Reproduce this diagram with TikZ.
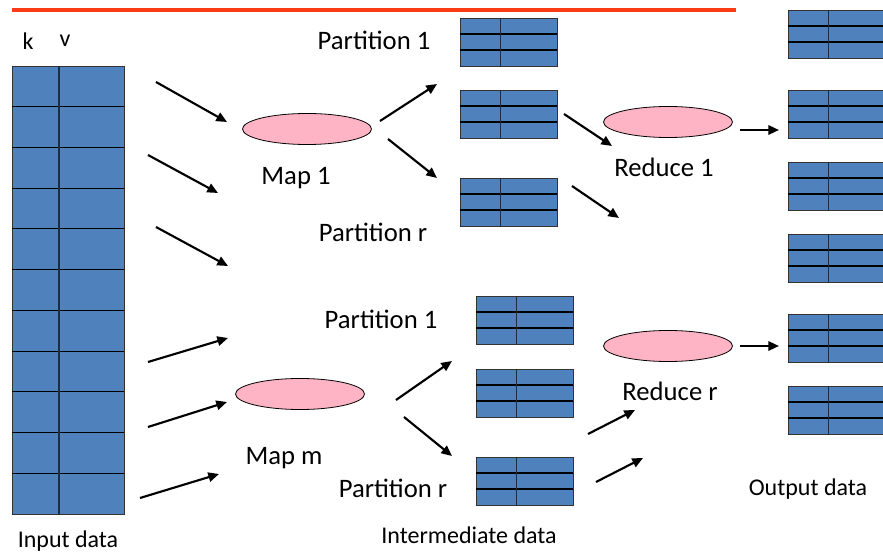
\documentclass[tikz,border=0pt]{standalone}
\usepackage{fontspec}
\setmainfont{Carlito}
\usetikzlibrary{shapes.geometric, arrows.meta, positioning, calc}
\definecolor{cellblue}{RGB}{79,129,189}
\definecolor{keyline}{RGB}{28,45,70}
\definecolor{taskpink}{RGB}{255,180,198}
\definecolor{rulered}{RGB}{250,60,20}
\tikzset{
  kvcell/.style={rectangle, draw=black!80, fill=cellblue, line width=0.6pt,
    inner sep=0pt, outer sep=0pt},
  rowline/.style={line width=0.8pt, color=black},
  colline/.style={line width=1.1pt, color=keyline},
  task/.style={ellipse, draw=black, fill=taskpink, line width=0.6pt,
    minimum width=96.75pt, minimum height=23.25pt, inner sep=0pt},
  lbl/.style={font=\fontsize{20}{24}\selectfont, inner sep=0pt},
  smalllbl/.style={font=\fontsize{18}{22}\selectfont, inner sep=0pt},
  flow/.style={-{Triangle[length=8pt, width=7pt]}, line width=1.6pt, color=black}
}
% key/value table: name, left, top, width, row height, rows
\newcommand{\kvtable}[6]{%
  \node[kvcell, anchor=north west, minimum width=#4*0.75pt,
    minimum height=#5*#6*0.75pt] (#1) at (#2,#3) {};
  \pgfmathtruncatemacro{\lastrow}{#6-1}
  \foreach \r in {1,...,\lastrow}
    \draw[rowline] ($(#1.north west)+(0,\r*#5)$) -- ++(#4,0);
  \draw[colline] ($(#1.north west)+(0.42*#4,0)$) -- ++(0,#5*#6);
}

\begin{document}
\begin{tikzpicture}[x=0.75pt, y=-0.75pt]
  \useasboundingbox (0,0) rectangle (883,552);
  \draw[rulered, line width=2.6pt] (12,10) -- (736,10);

  % input records
  \kvtable{input}{12}{66}{112}{40.73}{11}
  \node[smalllbl] (klbl) at (28,41) {k};
  \node[smalllbl] (vlbl) at (65,41) {v};
  \node[smalllbl] (inlbl) at (68,541) {Input data};

  % intermediate partitions
  \kvtable{pa1}{460}{18}{97}{16}{3}
  \kvtable{pa2}{460}{90}{97}{16}{3}
  \kvtable{par}{460}{178}{97}{16}{3}
  \kvtable{pb1}{476}{296}{97}{16}{3}
  \kvtable{pb2}{476}{369}{97}{16}{3}
  \kvtable{pbr}{476}{457}{97}{16}{3}
  \node[smalllbl] (midlbl) at (469,535) {Intermediate data};

  % output files
  \foreach \i/\y in {1/10, 2/90, 3/162, 4/234, 5/314, 6/386}{
    \kvtable{out\i}{788}{\y}{97}{16}{3}
  }
  \node[smalllbl] (outlbl) at (808,489) {Output data};

  % map and reduce tasks
  \node[task] (map1) at (307,129) {};
  \node[task] (mapm) at (300,394) {};
  \node[task] (red1) at (668,122) {};
  \node[task] (redr) at (668,346) {};

  \node[lbl] (map1lbl) at (296,178) {Map 1};
  \node[lbl] (mapmlbl) at (284,458) {Map m};
  \node[lbl] (red1lbl) at (664,167) {Reduce 1};
  \node[lbl] (redrlbl) at (670,391) {Reduce r};
  \node[lbl] (pa1lbl) at (374,40) {Partition 1};
  \node[lbl] (parlbl) at (373,232) {Partition r};
  \node[lbl] (pb1lbl) at (381,319) {Partition 1};
  \node[lbl] (pbrlbl) at (393,488) {Partition r};

  % arrow ends
  \foreach \nm/\px/\py in {i1/156/82, i1e/227/122, i2/148/155, i2e/218/193,
      i3/156/227, i3e/228/266, i4/148/362, i4e/228/338,
      i5/148/427, i5e/227/402, i6/140/498, i6e/219/474,
      m1/380/121, m1e/437/84, m2/388/139, m2e/437/178,
      m3/396/400, m3e/452/361, m4/404/417, m4e/452/456,
      s1/564/114, s1e/612/146, s2/572/186, s2e/619/218,
      s3/588/434, s3e/635/410, s4/596/482, s4e/643/458,
      r1/740/130, r1e/779/130, r2/740/346, r2e/779/346}
    \coordinate (\nm) at (\px,\py);

  \foreach \s in {i1,i2,i3,i4,i5,i6,m1,m2,m3,m4,s1,s2,s3,s4,r1,r2}
    \draw[flow] (\s) -- (\s e);
\end{tikzpicture}
\end{document}
